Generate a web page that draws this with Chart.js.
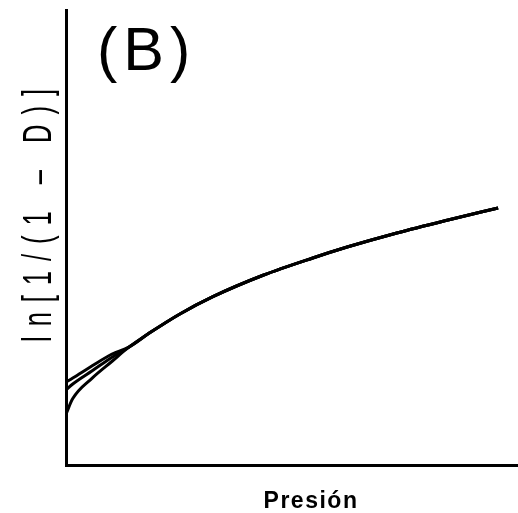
<!DOCTYPE html>
<html>
<head>
<meta charset="utf-8">
<script src="https://cdn.jsdelivr.net/npm/chart.js@4"></script>
<style>
  html, body { margin: 0; padding: 0; background: #fff; }
  #wrap { width: 518px; height: 513px; }
</style>
</head>
<body>
<div id="wrap"><canvas id="chart" width="518" height="513"></canvas></div>
<script>
// presion (eje x, sin unidades) y ln[1/(1-D)] para las tres curvas
const presion = [0, 1.5, 5.8, 10.2, 13.9, 18.6, 25.2, 32.5, 43.6, 54.6, 62.2, 73.2, 84.3, 95.6];
const tramoComun = [29.1, 33.2, 37.0, 41.7, 45.5, 47.9, 51.0, 53.8, 56.5];
const curvaAlta = [18.2, 19.1, 21.8, 24.4, 25.9, ...tramoComun];
const curvaMedia = [16.5, 17.8, 20.7, 23.7, 25.9, ...tramoComun];
const curvaBaja = [11.2, 14.6, 19.1, 22.8, 25.9, ...tramoComun];

const etiquetaPanel = "(B)";
const tituloY = "ln[1/(1 – D)]";
const tituloX = "Presión";

function puntos(ys) {
  return presion.map((x, i) => ({ x: x, y: ys[i] }));
}

function serie(ys) {
  return {
    data: puntos(ys),
    borderColor: "#000",
    borderWidth: 3,
    pointRadius: 0,
    fill: false,
    cubicInterpolationMode: "monotone",
  };
}

// textos dibujados a mano (panel y titulos de ejes)
const textos = {
  id: "textos",
  afterDraw(chart) {
    const ctx = chart.ctx;
    ctx.save();
    ctx.fillStyle = "#000";

    ctx.font = '61px "Liberation Sans", Arial, sans-serif';
    ctx.textBaseline = "alphabetic";
    ctx.textAlign = "left";
    ctx.letterSpacing = "6px";
    ctx.fillText(etiquetaPanel, 97, 70);

    ctx.font = 'bold 23px "Liberation Sans", Arial, sans-serif';
    ctx.textAlign = "center";
    ctx.letterSpacing = "1.5px";
    ctx.fillText(tituloX, 311, 508);

    // eje y: letra alta y estrecha, bastante espaciada
    ctx.translate(51, 216);
    ctx.rotate(-Math.PI / 2);
    const sx = 0.64;
    ctx.scale(sx, 1);
    ctx.font = '40px "Liberation Sans", Arial, sans-serif';
    ctx.letterSpacing = "0px";
    const w = ctx.measureText(tituloY).width;
    const esp = (253 / sx - w) / (tituloY.length - 1);
    ctx.letterSpacing = esp + "px";
    ctx.textAlign = "left";
    ctx.textBaseline = "alphabetic";
    ctx.fillText(tituloY, -126 / sx, 0);
    ctx.restore();
  },
};

const chart = new Chart(document.getElementById("chart"), {
  type: "line",
  data: {
    datasets: [serie(curvaAlta), serie(curvaMedia), serie(curvaBaja)],
  },
  options: {
    responsive: false,
    animation: false,
    layout: { padding: { left: 58, top: 10, right: 0, bottom: 40 } },
    plugins: { legend: { display: false }, tooltip: { enabled: false } },
    scales: {
      x: {
        type: "linear",
        min: 0,
        max: 100,
        grid: { display: false },
        ticks: { display: false },
        border: { display: true, color: "#000", width: 3 },
      },
      y: {
        min: 0,
        max: 100,
        grid: { display: false },
        ticks: { display: false },
        border: { display: true, color: "#000", width: 3 },
      },
    },
  },
  plugins: [textos],
});
</script>
</body>
</html>
